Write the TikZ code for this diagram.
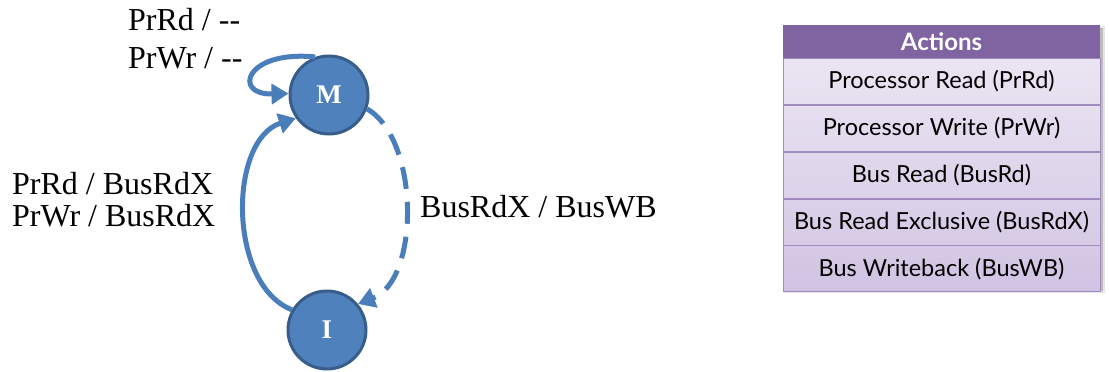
\documentclass[tikz,border=0pt]{standalone}
\usepackage{fontspec}
\setmainfont{Liberation Serif}
\newfontfamily\tabfont{Lato}
\usetikzlibrary{arrows.meta}
\definecolor{stfill}{RGB}{79,129,189}
\definecolor{stline}{RGB}{56,93,138}
\definecolor{edgeblue}{RGB}{74,126,187}
\definecolor{hdpurple}{RGB}{128,100,162}
\definecolor{rowtop}{RGB}{234,228,242}
\definecolor{rowbot}{RGB}{208,194,226}
\definecolor{rowrule}{RGB}{160,140,192}
\tikzset{
  state/.style={circle, draw=stline, line width=3pt, fill=stfill, minimum size=78pt,
    inner sep=0pt, text=white, font=\fontsize{27}{30}\selectfont\bfseries},
  trans/.style={draw=edgeblue, line width=5pt,
    -{Triangle[length=17pt,width=20pt]}},
  lbl/.style={inner sep=0pt, align=left, anchor=west},
  rowcell/.style={draw=rowrule, line width=0.8pt, minimum width=317pt, minimum height=46pt,
    inner sep=0pt, font=\tabfont\fontsize{23.5}{26}\selectfont, text=black},
  headcell/.style={fill=hdpurple, minimum width=317pt, minimum height=33pt, inner sep=0pt,
    text=white, font=\tabfont\bfseries\fontsize{24}{26}\selectfont},
}
\begin{document}
\begin{tikzpicture}[x=1pt,y=1pt]
\useasboundingbox (0,0) rectangle (1109,-372);

% states
\node[state] (M) at (329,-95) {M};
\node[state] (I) at (327,-330) {I};

% self loop on M
\draw[trans] (M.110) .. controls (245,-50) and (232,-95) .. (M.178);
% I -> M
\draw[trans] (I.150) .. controls (228,-285) and (228,-140) .. (M.215);
% M -> I (dashed)
\draw[trans, dash pattern=on 22pt off 13pt] (M.-20) .. controls (420,-140) and (420,-280) .. (I.40);

% transition labels
\node[lbl, font=\fontsize{32}{38}\selectfont] (lself) at (128,-39) {PrRd / -{}-\\PrWr / -{}-};
\node[lbl, font=\fontsize{32}{32}\selectfont] (lup) at (12,-200) {PrRd / BusRdX\\PrWr / BusRdX};
\node[lbl, font=\fontsize{32}{32}\selectfont] (ldown) at (420,-207) {BusRdX / BusWB};

% actions legend
\fill[black, opacity=0.18] (786,-28) rectangle (1103,-291);
\fill[black, opacity=0.10] (784,-26) rectangle (1105,-293);
\node[headcell] (hd) at (941.5,-41.5) {Actions};
\node[rowcell, top color=rowtop, bottom color=rowtop!85!rowbot, anchor=north] (r1) at (hd.south) {Processor Read (PrRd)};
\node[rowcell, top color=rowtop!85!rowbot, bottom color=rowtop!65!rowbot, anchor=north] (r2) at (r1.south) {Processor Write (PrWr)};
\node[rowcell, top color=rowtop!65!rowbot, bottom color=rowtop!45!rowbot, anchor=north] (r3) at (r2.south) {Bus Read (BusRd)};
\node[rowcell, top color=rowtop!45!rowbot, bottom color=rowtop!25!rowbot, anchor=north] (r4) at (r3.south) {Bus Read Exclusive (BusRdX)};
\node[rowcell, top color=rowtop!25!rowbot, bottom color=rowbot, anchor=north] (r5) at (r4.south) {Bus Writeback (BusWB)};
\end{tikzpicture}
\end{document}
